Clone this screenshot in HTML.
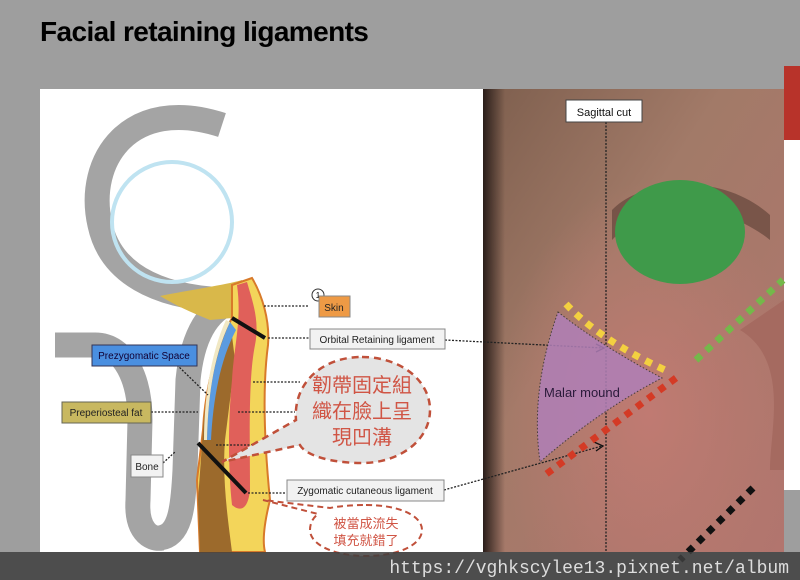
<!DOCTYPE html>
<html><head><meta charset="utf-8"><style>
html,body{margin:0;padding:0}
body{width:800px;height:580px;overflow:hidden;background:#9e9e9e;position:relative;font-family:"Liberation Sans","Noto Sans CJK TC",sans-serif}
.t{position:absolute;left:40px;top:16px;font-size:28px;font-weight:bold;color:#000;letter-spacing:-0.6px}
</style></head><body>
<div class="t">Facial retaining ligaments</div>
<svg width="800" height="580" style="position:absolute;left:0;top:0" xmlns="http://www.w3.org/2000/svg">
<defs>
<linearGradient id="sk" x1="0" y1="0" x2="1" y2="1">
<stop offset="0" stop-color="#7e5f4e"/><stop offset="0.4" stop-color="#a27a68"/><stop offset="1" stop-color="#b2756e"/>
</linearGradient>
<radialGradient id="ch" cx="0.55" cy="0.7" r="0.5"><stop offset="0" stop-color="#c07a72"/><stop offset="1" stop-color="#c07a72" stop-opacity="0"/></radialGradient>
<linearGradient id="hr" x1="0" y1="0" x2="1" y2="0"><stop offset="0" stop-color="#2a1e1a"/><stop offset="1" stop-color="#2a1e1a" stop-opacity="0"/></linearGradient>
</defs>
<rect x="784" y="66" width="16" height="424" fill="#fff"/>
<rect x="784" y="66" width="16" height="74" fill="#b8332a"/>
<rect x="40" y="89" width="444" height="463" fill="#fff"/>
<rect x="483" y="89" width="301" height="463" fill="url(#sk)"/>
<rect x="483" y="89" width="301" height="463" fill="url(#ch)"/>
<rect x="483" y="89" width="22" height="463" fill="url(#hr)"/>
<path d="M612 210 C640 180 720 170 770 215 L770 240 C720 200 650 200 612 240Z" fill="#5a3e34" opacity="0.6"/>
<path d="M740 330 C790 360 770 430 770 470 L784 470 L784 300Z" fill="#a56a60"/>
<g fill="none" stroke="#a4a4a4" stroke-width="25">
<path d="M222 125 C130 95 85 160 100 225 C112 280 170 300 235 300"/>
<path d="M235 300 C205 310 192 340 188 380 L185 470 C183 510 180 535 160 538"/>
<path d="M55 345 L95 345 C125 345 140 380 140 420 L138 500 C136 530 150 540 162 538"/>
</g>
<circle cx="172" cy="222" r="60" fill="none" stroke="#bfe3f1" stroke-width="4"/>
<path d="M160 296 C190 290 225 285 242 280 L250 320 L232 318 L210 320 C190 312 175 305 160 296Z" fill="#d9b84a"/>
<path d="M232 285 L252 278 C262 295 270 320 268 345 C262 390 265 450 270 500 C265 520 262 540 265 552 L200 552 L197 480 L203 430 C205 390 215 350 232 318Z" fill="#f3d55a" stroke="#d87a2a" stroke-width="2"/>
<path d="M230 320 C215 350 205 395 203 430 L198 500 L200 552 L232 552 C228 520 222 480 225 440 L235 360Z" fill="#9c6a2c"/>
<path d="M237 285 L247 282 C252 300 260 320 255 345 C248 380 250 440 250 490 C248 510 240 512 232 505 C228 470 228 420 232 380 C234 345 242 320 237 285Z" fill="#e0605a"/>
<path d="M230 322 C215 355 208 390 207 440 L211 440 C213 400 220 360 236 330Z" fill="#5b9be0"/>
<path d="M226 320 C212 350 204 395 204 440 L207 440 C208 395 214 355 230 322Z" fill="#f1e8c4"/>
<line x1="232" y1="318" x2="265" y2="338" stroke="#111" stroke-width="4"/>
<line x1="198" y1="443" x2="246" y2="493" stroke="#111" stroke-width="4"/>
<g stroke="#222" stroke-width="1.3" stroke-dasharray="2 1.5" fill="none">
<line x1="264" y1="306" x2="308" y2="306"/>
<line x1="268" y1="338" x2="310" y2="338"/>
<line x1="445" y1="340" x2="603" y2="348"/>
<line x1="177" y1="365" x2="208" y2="395"/>
<line x1="151" y1="412" x2="198" y2="412"/>
<line x1="163" y1="463" x2="175" y2="452"/>
<line x1="253" y1="382" x2="300" y2="382"/>
<line x1="238" y1="412" x2="295" y2="412"/>
<line x1="216" y1="445" x2="300" y2="445"/>
<line x1="248" y1="493" x2="287" y2="493"/>
<line x1="444" y1="490" x2="602" y2="446"/>
<line x1="606" y1="122" x2="606" y2="552"/>
</g>
<path d="M596 344 L604 348 L596 352 M594 442 L603 446 L596 451" stroke="#111" stroke-width="1.3" fill="none"/>
<circle cx="318" cy="295" r="6" fill="#fff" stroke="#333"/>
<text x="318" y="298" font-size="8" text-anchor="middle">1</text>
<rect x="319" y="296" width="31" height="21" fill="#ee9a45" stroke="#888"/>
<text x="334" y="311" font-size="10" text-anchor="middle" fill="#222">Skin</text>
<rect x="310" y="329" width="135" height="20" fill="#f2f2f2" stroke="#888"/>
<text x="377" y="343" font-size="10" text-anchor="middle" fill="#222">Orbital Retaining ligament</text>
<rect x="92" y="345" width="105" height="21" fill="#4a8fe0" stroke="#335"/>
<text x="144" y="359" font-size="10" text-anchor="middle" fill="#103">Prezygomatic Space</text>
<rect x="62" y="402" width="89" height="21" fill="#c8b860" stroke="#665"/>
<text x="106" y="416" font-size="10" text-anchor="middle" fill="#222">Preperiosteal fat</text>
<rect x="131" y="455" width="32" height="22" fill="#f2f2f2" stroke="#888"/>
<text x="147" y="470" font-size="10" text-anchor="middle" fill="#222">Bone</text>
<rect x="287" y="480" width="157" height="21" fill="#f2f2f2" stroke="#888"/>
<text x="365" y="494" font-size="10" text-anchor="middle" fill="#222">Zygomatic cutaneous ligament</text>
<path d="M362 357 C400 357 430 380 430 410 C430 440 400 463 362 463 C330 463 305 455 300 445 L222 462 L296 420 C293 385 320 357 362 357Z" fill="#e4e4e4" stroke="#c0503a" stroke-width="2.5" stroke-dasharray="7 5"/>
<text x="362" y="392" font-size="20" fill="#d05545" text-anchor="middle">韌帶固定組</text>
<text x="362" y="418" font-size="20" fill="#d05545" text-anchor="middle">織在臉上呈</text>
<text x="362" y="444" font-size="20" fill="#d05545" text-anchor="middle">現凹溝</text>
<path d="M366 505 C398 505 422 515 422 530 C422 545 398 556 366 556 C335 556 310 545 310 530 C310 522 314 517 318 514 L263 500 L330 508 C340 506 352 505 366 505Z" fill="#fff" stroke="#c0503a" stroke-width="2" stroke-dasharray="6 4"/>
<text x="366" y="528" font-size="13" fill="#d05545" text-anchor="middle">被當成流失</text>
<text x="366" y="545" font-size="13" fill="#d05545" text-anchor="middle">填充就錯了</text>
<ellipse cx="680" cy="232" rx="65" ry="52" fill="#3f9a4a"/>
<path d="M558 312 Q600 345 662 378 Q600 410 540 462 Q530 390 558 312Z" fill="#b07fb8" opacity="0.85" stroke="#333" stroke-width="1" stroke-dasharray="1.5 2"/>
<text x="544" y="397" font-size="13" fill="#2a1a3a">Malar mound</text>
<g stroke-width="7" stroke-dasharray="7 7" fill="none">
<path d="M566 304 Q600 340 665 370" stroke="#f3d040"/>
<path d="M696 360 L783 280" stroke="#74b84a"/>
<path d="M676 378 L545 475" stroke="#d43a25"/>
<path d="M753 488 L680 560" stroke="#111"/>
</g>
<rect x="566" y="100" width="76" height="22" fill="#fff" stroke="#444"/>
<text x="604" y="116" font-size="11" text-anchor="middle" fill="#111">Sagittal cut</text>
<rect x="0" y="552" width="800" height="28" fill="#3e3e3e" opacity="0.85"/>
<text x="789" y="573" font-size="18" font-family="Liberation Mono, monospace" fill="#ddd" text-anchor="end">https://vghkscylee13.pixnet.net/album</text>
</svg>
</body></html>
